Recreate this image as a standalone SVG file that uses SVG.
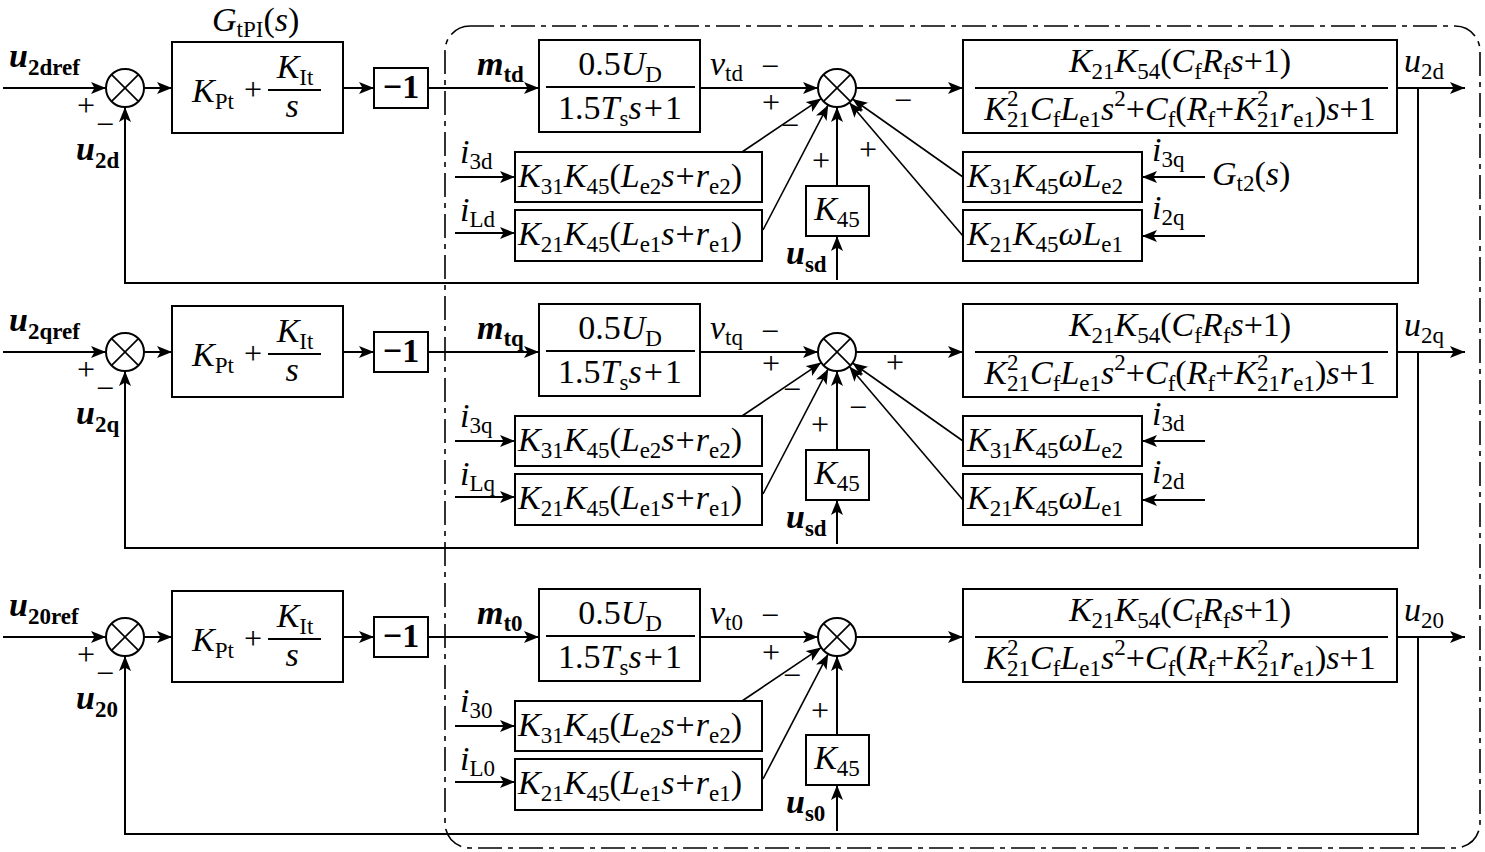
<svg xmlns="http://www.w3.org/2000/svg" width="1485" height="852" viewBox="0 0 1485 852">
<defs>
<marker id="ah" viewBox="0 0 15 12" refX="15" refY="6" markerWidth="15" markerHeight="12" markerUnits="userSpaceOnUse" orient="auto">
<path d="M0,0 L15,6 L0,12 L3.5,6 z" fill="#000"/>
</marker>
<style>
.ln{fill:none;stroke:#000;stroke-width:2}
.ar{marker-end:url(#ah)}
.dg{stroke-width:1.6}
.bx{fill:#fff;stroke:#000;stroke-width:2}
.sm{fill:#fff;stroke:#000;stroke-width:2}
.cx{fill:none;stroke:#000;stroke-width:1.6}
.tx{font-family:"Liberation Serif","Times New Roman",serif;font-size:34px;fill:#000}
.it{font-style:italic}
.sb{font-size:23px;font-style:normal}
.sg{font-family:"Liberation Serif","Times New Roman",serif;font-size:32px;fill:#000;text-anchor:middle}
.bd{font-weight:bold}
.mid{text-anchor:middle}
.border{fill:none;stroke:#000;stroke-width:1.6;stroke-dasharray:24 6 5 6}
</style>
</defs>
<rect width="1485" height="852" fill="#fff"/>

<g id="boundary"><rect class="border" x="445" y="26" width="1035" height="822" rx="25"/></g>

<g id="connectors">
<g id="conn-d">
<path class="ln ar" d="M3,88 H106"/>
<path class="ln ar" d="M144,88 H172"/>
<path class="ln ar" d="M343,88 H374"/>
<path class="ln ar" d="M428,88 H539"/>
<path class="ln ar" d="M700,88 H818"/>
<path class="ln ar" d="M856,88 H963"/>
<path class="ln ar" d="M1397,88 H1465"/>
<path class="ln ar" d="M1418,88 V283 H125 V107"/>
<path class="ln ar" d="M455,177 H515"/>
<path class="ln ar" d="M455,233 H515"/>
<path class="ln ar dg" d="M742,152 L821.2,98.6"/>
<path class="ln ar dg" d="M763,230 L828.2,104.9"/>
<path class="ln ar" d="M837,186 V107"/>
<path class="ln ar" d="M837,280 V236"/>
<path class="ln ar dg" d="M963,177 L852.5,99"/>
<path class="ln ar dg" d="M963,236 L849.3,102.5"/>
<path class="ln ar" d="M1205,177 H1142"/>
<path class="ln ar" d="M1205,236 H1142"/>
</g>
<g id="conn-q" transform="translate(0,264)">
<path class="ln ar" d="M3,88 H106"/>
<path class="ln ar" d="M144,88 H172"/>
<path class="ln ar" d="M343,88 H374"/>
<path class="ln ar" d="M428,88 H539"/>
<path class="ln ar" d="M700,88 H818"/>
<path class="ln ar" d="M856,88 H963"/>
<path class="ln ar" d="M1397,88 H1465"/>
<path class="ln ar" d="M1418,88 V284 H125 V107"/>
<path class="ln ar" d="M455,177 H515"/>
<path class="ln ar" d="M455,233 H515"/>
<path class="ln ar dg" d="M742,152 L821.2,98.6"/>
<path class="ln ar dg" d="M763,230 L828.2,104.9"/>
<path class="ln ar" d="M837,186 V107"/>
<path class="ln ar" d="M837,280 V236"/>
<path class="ln ar dg" d="M963,177 L852.5,99"/>
<path class="ln ar dg" d="M963,236 L849.3,102.5"/>
<path class="ln ar" d="M1205,177 H1142"/>
<path class="ln ar" d="M1205,236 H1142"/>
</g>
<g id="conn-0" transform="translate(0,549)">
<path class="ln ar" d="M3,88 H106"/>
<path class="ln ar" d="M144,88 H172"/>
<path class="ln ar" d="M343,88 H374"/>
<path class="ln ar" d="M428,88 H539"/>
<path class="ln ar" d="M700,88 H818"/>
<path class="ln ar" d="M856,88 H963"/>
<path class="ln ar" d="M1397,88 H1465"/>
<path class="ln ar" d="M1418,88 V285 H125 V107"/>
<path class="ln ar" d="M455,177 H515"/>
<path class="ln ar" d="M455,233 H515"/>
<path class="ln ar dg" d="M742,152 L821.2,98.6"/>
<path class="ln ar dg" d="M763,230 L828.2,104.9"/>
<path class="ln ar" d="M837,186 V107"/>
<path class="ln ar" d="M837,282 V236"/>
</g>
</g>

<!-- ROW D -->
<g id="row-d">
<g id="d-ref">
<text class="tx bd" x="9" y="67"><tspan class="it">u</tspan><tspan class="sb" dy="8">2dref</tspan></text>
<text class="sg" x="86" y="116">+</text>
<text class="sg" x="105" y="135">−</text>
<text class="tx bd" x="76" y="160"><tspan class="it">u</tspan><tspan class="sb" dy="8">2d</tspan></text>
</g>
<g id="d-sum1"><circle class="sm" cx="125" cy="88" r="19"/><path class="cx" d="M111.6,74.6 L138.4,101.4 M138.4,74.6 L111.6,101.4"/></g>
<g id="d-pi">
<text class="tx" x="212" y="31"><tspan class="it">G</tspan><tspan class="sb" dy="6">tPI</tspan><tspan dy="-6">(</tspan><tspan class="it">s</tspan>)</text>
<rect class="bx" x="172" y="42" width="171" height="91"/>
<text class="tx" x="192" y="102"><tspan class="it">K</tspan><tspan class="sb" dy="7">Pt</tspan></text>
<text class="sg" x="253" y="100">+</text>
<text class="tx mid" x="295" y="78"><tspan class="it">K</tspan><tspan class="sb" dy="7">It</tspan></text>
<line class="ln" x1="268" y1="90" x2="321" y2="90"/>
<text class="tx it mid" x="292" y="117">s</text>
</g>
<g id="d-neg"><rect class="bx" x="374" y="68" width="54" height="40"/><text class="tx bd mid" x="401" y="98">−1</text></g>
<g id="d-inv">
<text class="tx bd" x="477" y="75"><tspan class="it">m</tspan><tspan class="sb" dy="7">td</tspan></text>
<rect class="bx" x="539" y="40" width="161" height="92"/>
<text class="tx mid" x="620" y="75">0.5<tspan class="it">U</tspan><tspan class="sb" dy="7">D</tspan></text>
<line class="ln" x1="546" y1="87" x2="695" y2="87"/>
<text class="tx mid" x="620" y="119">1.5<tspan class="it">T</tspan><tspan class="sb" dy="7">s</tspan><tspan class="it" dy="-7">s</tspan><tspan dx="2">+</tspan><tspan dx="2">1</tspan></text>
<text class="tx" x="710" y="75"><tspan class="it">v</tspan><tspan class="sb" dy="6">td</tspan></text>
</g>
<g id="d-sum2"><circle class="sm" cx="837" cy="88" r="19"/><path class="cx" d="M823.6,74.6 L850.4,101.4 M850.4,74.6 L823.6,101.4"/>
<text class="sg" x="770" y="77">−</text>
<text class="sg" x="771" y="113">+</text>
<text class="sg" x="790" y="136">−</text>
<text class="sg" x="821" y="171">+</text>
<text class="sg" x="868" y="160">+</text>
<text class="sg" x="903" y="111">−</text>
</g>
<g id="d-plant">
<rect class="bx" x="963" y="40" width="434" height="93"/>
<text class="tx mid" x="1180" y="72"><tspan class="it">K</tspan><tspan class="sb" dy="7">21</tspan><tspan class="it" dy="-7">K</tspan><tspan class="sb" dy="7">54</tspan><tspan dy="-7">(</tspan><tspan class="it">C</tspan><tspan class="sb" dy="7">f</tspan><tspan class="it" dy="-7">R</tspan><tspan class="sb" dy="7">f</tspan><tspan class="it" dy="-7">s</tspan>+1)</text>
<line class="ln" x1="975" y1="88" x2="1388" y2="88"/>
<text class="tx mid" x="1180" y="120"><tspan class="it">K</tspan><tspan class="sb" dy="-14">2</tspan><tspan class="sb" dx="-11.5" dy="21">21</tspan><tspan class="it" dy="-7">C</tspan><tspan class="sb" dy="7">f</tspan><tspan class="it" dy="-7">L</tspan><tspan class="sb" dy="7">e1</tspan><tspan class="it" dy="-7">s</tspan><tspan class="sb" dy="-14">2</tspan><tspan dy="14">+</tspan><tspan class="it">C</tspan><tspan class="sb" dy="7">f</tspan><tspan dy="-7">(</tspan><tspan class="it">R</tspan><tspan class="sb" dy="7">f</tspan><tspan dy="-7">+</tspan><tspan class="it">K</tspan><tspan class="sb" dy="-14">2</tspan><tspan class="sb" dx="-11.5" dy="21">21</tspan><tspan class="it" dy="-7">r</tspan><tspan class="sb" dy="7">e1</tspan><tspan dy="-7">)</tspan><tspan class="it">s</tspan>+1</text>
<text class="tx" x="1404" y="72"><tspan class="it">u</tspan><tspan class="sb" dy="7">2d</tspan></text>
</g>
<g id="d-ga">
<text class="tx" x="460" y="163"><tspan class="it">i</tspan><tspan class="sb" dy="6">3d</tspan></text>
<rect class="bx" x="515" y="152" width="247" height="50"/>
<text class="tx" x="518" y="187"><tspan class="it">K</tspan><tspan class="sb" dy="7">31</tspan><tspan class="it" dy="-7">K</tspan><tspan class="sb" dy="7">45</tspan><tspan dy="-7">(</tspan><tspan class="it">L</tspan><tspan class="sb" dy="7">e2</tspan><tspan class="it" dy="-7">s</tspan><tspan dx="1">+</tspan><tspan class="it" dx="1">r</tspan><tspan class="sb" dy="7">e2</tspan><tspan dy="-7">)</tspan></text>
</g>
<g id="d-gb">
<text class="tx" x="460" y="221"><tspan class="it">i</tspan><tspan class="sb" dy="6">Ld</tspan></text>
<rect class="bx" x="515" y="210" width="247" height="51"/>
<text class="tx" x="518" y="245"><tspan class="it">K</tspan><tspan class="sb" dy="7">21</tspan><tspan class="it" dy="-7">K</tspan><tspan class="sb" dy="7">45</tspan><tspan dy="-7">(</tspan><tspan class="it">L</tspan><tspan class="sb" dy="7">e1</tspan><tspan class="it" dy="-7">s</tspan><tspan dx="1">+</tspan><tspan class="it" dx="1">r</tspan><tspan class="sb" dy="7">e1</tspan><tspan dy="-7">)</tspan></text>
</g>
<g id="d-k45">
<rect class="bx" x="806" y="186" width="63" height="50"/>
<text class="tx mid" x="837" y="220"><tspan class="it">K</tspan><tspan class="sb" dy="7">45</tspan></text>
<text class="tx bd" x="786" y="264"><tspan class="it">u</tspan><tspan class="sb" dy="8">sd</tspan></text>
</g>
<g id="d-wa">
<rect class="bx" x="963" y="152" width="179" height="50"/>
<text class="tx" x="967" y="187"><tspan class="it">K</tspan><tspan class="sb" dy="7">31</tspan><tspan class="it" dy="-7">K</tspan><tspan class="sb" dy="7">45</tspan><tspan class="it" dy="-7">ωL</tspan><tspan class="sb" dy="7">e2</tspan></text>
<text class="tx" x="1152" y="161"><tspan class="it">i</tspan><tspan class="sb" dy="6">3q</tspan></text>
<text class="tx" x="1212" y="185"><tspan class="it">G</tspan><tspan class="sb" dy="6">t2</tspan><tspan dy="-6">(</tspan><tspan class="it">s</tspan>)</text>
</g>
<g id="d-wb">
<rect class="bx" x="963" y="210" width="179" height="51"/>
<text class="tx" x="967" y="245"><tspan class="it">K</tspan><tspan class="sb" dy="7">21</tspan><tspan class="it" dy="-7">K</tspan><tspan class="sb" dy="7">45</tspan><tspan class="it" dy="-7">ωL</tspan><tspan class="sb" dy="7">e1</tspan></text>
<text class="tx" x="1152" y="219"><tspan class="it">i</tspan><tspan class="sb" dy="6">2q</tspan></text>
</g>
</g>

<!-- ROW Q -->
<g id="row-q" transform="translate(0,264)">
<g id="q-ref">
<text class="tx bd" x="9" y="67"><tspan class="it">u</tspan><tspan class="sb" dy="8">2qref</tspan></text>
<text class="sg" x="86" y="116">+</text>
<text class="sg" x="105" y="135">−</text>
<text class="tx bd" x="76" y="160"><tspan class="it">u</tspan><tspan class="sb" dy="8">2q</tspan></text>
</g>
<g id="q-sum1"><circle class="sm" cx="125" cy="88" r="19"/><path class="cx" d="M111.6,74.6 L138.4,101.4 M138.4,74.6 L111.6,101.4"/></g>
<g id="q-pi">
<rect class="bx" x="172" y="42" width="171" height="91"/>
<text class="tx" x="192" y="102"><tspan class="it">K</tspan><tspan class="sb" dy="7">Pt</tspan></text>
<text class="sg" x="253" y="100">+</text>
<text class="tx mid" x="295" y="78"><tspan class="it">K</tspan><tspan class="sb" dy="7">It</tspan></text>
<line class="ln" x1="268" y1="90" x2="321" y2="90"/>
<text class="tx it mid" x="292" y="117">s</text>
</g>
<g id="q-neg"><rect class="bx" x="374" y="68" width="54" height="40"/><text class="tx bd mid" x="401" y="98">−1</text></g>
<g id="q-inv">
<text class="tx bd" x="477" y="75"><tspan class="it">m</tspan><tspan class="sb" dy="7">tq</tspan></text>
<rect class="bx" x="539" y="40" width="161" height="92"/>
<text class="tx mid" x="620" y="75">0.5<tspan class="it">U</tspan><tspan class="sb" dy="7">D</tspan></text>
<line class="ln" x1="546" y1="87" x2="695" y2="87"/>
<text class="tx mid" x="620" y="119">1.5<tspan class="it">T</tspan><tspan class="sb" dy="7">s</tspan><tspan class="it" dy="-7">s</tspan><tspan dx="2">+</tspan><tspan dx="2">1</tspan></text>
<text class="tx" x="710" y="75"><tspan class="it">v</tspan><tspan class="sb" dy="6">tq</tspan></text>
</g>
<g id="q-sum2"><circle class="sm" cx="837" cy="88" r="19"/><path class="cx" d="M823.6,74.6 L850.4,101.4 M850.4,74.6 L823.6,101.4"/>
<text class="sg" x="770" y="78">−</text>
<text class="sg" x="771" y="110">+</text>
<text class="sg" x="792" y="136">−</text>
<text class="sg" x="820" y="171">+</text>
<text class="sg" x="858" y="154">−</text>
<text class="sg" x="895" y="109">+</text>
</g>
<g id="q-plant">
<rect class="bx" x="963" y="40" width="434" height="93"/>
<text class="tx mid" x="1180" y="72"><tspan class="it">K</tspan><tspan class="sb" dy="7">21</tspan><tspan class="it" dy="-7">K</tspan><tspan class="sb" dy="7">54</tspan><tspan dy="-7">(</tspan><tspan class="it">C</tspan><tspan class="sb" dy="7">f</tspan><tspan class="it" dy="-7">R</tspan><tspan class="sb" dy="7">f</tspan><tspan class="it" dy="-7">s</tspan>+1)</text>
<line class="ln" x1="975" y1="88" x2="1388" y2="88"/>
<text class="tx mid" x="1180" y="120"><tspan class="it">K</tspan><tspan class="sb" dy="-14">2</tspan><tspan class="sb" dx="-11.5" dy="21">21</tspan><tspan class="it" dy="-7">C</tspan><tspan class="sb" dy="7">f</tspan><tspan class="it" dy="-7">L</tspan><tspan class="sb" dy="7">e1</tspan><tspan class="it" dy="-7">s</tspan><tspan class="sb" dy="-14">2</tspan><tspan dy="14">+</tspan><tspan class="it">C</tspan><tspan class="sb" dy="7">f</tspan><tspan dy="-7">(</tspan><tspan class="it">R</tspan><tspan class="sb" dy="7">f</tspan><tspan dy="-7">+</tspan><tspan class="it">K</tspan><tspan class="sb" dy="-14">2</tspan><tspan class="sb" dx="-11.5" dy="21">21</tspan><tspan class="it" dy="-7">r</tspan><tspan class="sb" dy="7">e1</tspan><tspan dy="-7">)</tspan><tspan class="it">s</tspan>+1</text>
<text class="tx" x="1404" y="72"><tspan class="it">u</tspan><tspan class="sb" dy="7">2q</tspan></text>
</g>
<g id="q-ga">
<text class="tx" x="460" y="163"><tspan class="it">i</tspan><tspan class="sb" dy="6">3q</tspan></text>
<rect class="bx" x="515" y="152" width="247" height="50"/>
<text class="tx" x="518" y="187"><tspan class="it">K</tspan><tspan class="sb" dy="7">31</tspan><tspan class="it" dy="-7">K</tspan><tspan class="sb" dy="7">45</tspan><tspan dy="-7">(</tspan><tspan class="it">L</tspan><tspan class="sb" dy="7">e2</tspan><tspan class="it" dy="-7">s</tspan><tspan dx="1">+</tspan><tspan class="it" dx="1">r</tspan><tspan class="sb" dy="7">e2</tspan><tspan dy="-7">)</tspan></text>
</g>
<g id="q-gb">
<text class="tx" x="460" y="221"><tspan class="it">i</tspan><tspan class="sb" dy="6">Lq</tspan></text>
<rect class="bx" x="515" y="210" width="247" height="51"/>
<text class="tx" x="518" y="245"><tspan class="it">K</tspan><tspan class="sb" dy="7">21</tspan><tspan class="it" dy="-7">K</tspan><tspan class="sb" dy="7">45</tspan><tspan dy="-7">(</tspan><tspan class="it">L</tspan><tspan class="sb" dy="7">e1</tspan><tspan class="it" dy="-7">s</tspan><tspan dx="1">+</tspan><tspan class="it" dx="1">r</tspan><tspan class="sb" dy="7">e1</tspan><tspan dy="-7">)</tspan></text>
</g>
<g id="q-k45">
<rect class="bx" x="806" y="186" width="63" height="50"/>
<text class="tx mid" x="837" y="220"><tspan class="it">K</tspan><tspan class="sb" dy="7">45</tspan></text>
<text class="tx bd" x="786" y="264"><tspan class="it">u</tspan><tspan class="sb" dy="8">sd</tspan></text>
</g>
<g id="q-wa">
<rect class="bx" x="963" y="152" width="179" height="50"/>
<text class="tx" x="967" y="187"><tspan class="it">K</tspan><tspan class="sb" dy="7">31</tspan><tspan class="it" dy="-7">K</tspan><tspan class="sb" dy="7">45</tspan><tspan class="it" dy="-7">ωL</tspan><tspan class="sb" dy="7">e2</tspan></text>
<text class="tx" x="1152" y="161"><tspan class="it">i</tspan><tspan class="sb" dy="6">3d</tspan></text>
</g>
<g id="q-wb">
<rect class="bx" x="963" y="210" width="179" height="51"/>
<text class="tx" x="967" y="245"><tspan class="it">K</tspan><tspan class="sb" dy="7">21</tspan><tspan class="it" dy="-7">K</tspan><tspan class="sb" dy="7">45</tspan><tspan class="it" dy="-7">ωL</tspan><tspan class="sb" dy="7">e1</tspan></text>
<text class="tx" x="1152" y="219"><tspan class="it">i</tspan><tspan class="sb" dy="6">2d</tspan></text>
</g>
</g>

<!-- ROW 0 -->
<g id="row-0" transform="translate(0,549)">
<g id="z-ref">
<text class="tx bd" x="9" y="67"><tspan class="it">u</tspan><tspan class="sb" dy="8">20ref</tspan></text>
<text class="sg" x="86" y="116">+</text>
<text class="sg" x="105" y="135">−</text>
<text class="tx bd" x="76" y="160"><tspan class="it">u</tspan><tspan class="sb" dy="8">20</tspan></text>
</g>
<g id="z-sum1"><circle class="sm" cx="125" cy="88" r="19"/><path class="cx" d="M111.6,74.6 L138.4,101.4 M138.4,74.6 L111.6,101.4"/></g>
<g id="z-pi">
<rect class="bx" x="172" y="42" width="171" height="91"/>
<text class="tx" x="192" y="102"><tspan class="it">K</tspan><tspan class="sb" dy="7">Pt</tspan></text>
<text class="sg" x="253" y="100">+</text>
<text class="tx mid" x="295" y="78"><tspan class="it">K</tspan><tspan class="sb" dy="7">It</tspan></text>
<line class="ln" x1="268" y1="90" x2="321" y2="90"/>
<text class="tx it mid" x="292" y="117">s</text>
</g>
<g id="z-neg"><rect class="bx" x="374" y="68" width="54" height="40"/><text class="tx bd mid" x="401" y="98">−1</text></g>
<g id="z-inv">
<text class="tx bd" x="477" y="75"><tspan class="it">m</tspan><tspan class="sb" dy="7">t0</tspan></text>
<rect class="bx" x="539" y="40" width="161" height="92"/>
<text class="tx mid" x="620" y="75">0.5<tspan class="it">U</tspan><tspan class="sb" dy="7">D</tspan></text>
<line class="ln" x1="546" y1="87" x2="695" y2="87"/>
<text class="tx mid" x="620" y="119">1.5<tspan class="it">T</tspan><tspan class="sb" dy="7">s</tspan><tspan class="it" dy="-7">s</tspan><tspan dx="2">+</tspan><tspan dx="2">1</tspan></text>
<text class="tx" x="710" y="75"><tspan class="it">v</tspan><tspan class="sb" dy="6">t0</tspan></text>
</g>
<g id="z-sum2"><circle class="sm" cx="837" cy="88" r="19"/><path class="cx" d="M823.6,74.6 L850.4,101.4 M850.4,74.6 L823.6,101.4"/>
<text class="sg" x="770" y="77">−</text>
<text class="sg" x="771" y="114">+</text>
<text class="sg" x="792" y="137">−</text>
<text class="sg" x="820" y="172">+</text>
</g>
<g id="z-plant">
<rect class="bx" x="963" y="40" width="434" height="93"/>
<text class="tx mid" x="1180" y="72"><tspan class="it">K</tspan><tspan class="sb" dy="7">21</tspan><tspan class="it" dy="-7">K</tspan><tspan class="sb" dy="7">54</tspan><tspan dy="-7">(</tspan><tspan class="it">C</tspan><tspan class="sb" dy="7">f</tspan><tspan class="it" dy="-7">R</tspan><tspan class="sb" dy="7">f</tspan><tspan class="it" dy="-7">s</tspan>+1)</text>
<line class="ln" x1="975" y1="88" x2="1388" y2="88"/>
<text class="tx mid" x="1180" y="120"><tspan class="it">K</tspan><tspan class="sb" dy="-14">2</tspan><tspan class="sb" dx="-11.5" dy="21">21</tspan><tspan class="it" dy="-7">C</tspan><tspan class="sb" dy="7">f</tspan><tspan class="it" dy="-7">L</tspan><tspan class="sb" dy="7">e1</tspan><tspan class="it" dy="-7">s</tspan><tspan class="sb" dy="-14">2</tspan><tspan dy="14">+</tspan><tspan class="it">C</tspan><tspan class="sb" dy="7">f</tspan><tspan dy="-7">(</tspan><tspan class="it">R</tspan><tspan class="sb" dy="7">f</tspan><tspan dy="-7">+</tspan><tspan class="it">K</tspan><tspan class="sb" dy="-14">2</tspan><tspan class="sb" dx="-11.5" dy="21">21</tspan><tspan class="it" dy="-7">r</tspan><tspan class="sb" dy="7">e1</tspan><tspan dy="-7">)</tspan><tspan class="it">s</tspan>+1</text>
<text class="tx" x="1404" y="72"><tspan class="it">u</tspan><tspan class="sb" dy="7">20</tspan></text>
</g>
<g id="z-ga">
<text class="tx" x="460" y="163"><tspan class="it">i</tspan><tspan class="sb" dy="6">30</tspan></text>
<rect class="bx" x="515" y="152" width="247" height="50"/>
<text class="tx" x="518" y="187"><tspan class="it">K</tspan><tspan class="sb" dy="7">31</tspan><tspan class="it" dy="-7">K</tspan><tspan class="sb" dy="7">45</tspan><tspan dy="-7">(</tspan><tspan class="it">L</tspan><tspan class="sb" dy="7">e2</tspan><tspan class="it" dy="-7">s</tspan><tspan dx="1">+</tspan><tspan class="it" dx="1">r</tspan><tspan class="sb" dy="7">e2</tspan><tspan dy="-7">)</tspan></text>
</g>
<g id="z-gb">
<text class="tx" x="460" y="221"><tspan class="it">i</tspan><tspan class="sb" dy="6">L0</tspan></text>
<rect class="bx" x="515" y="210" width="247" height="51"/>
<text class="tx" x="518" y="245"><tspan class="it">K</tspan><tspan class="sb" dy="7">21</tspan><tspan class="it" dy="-7">K</tspan><tspan class="sb" dy="7">45</tspan><tspan dy="-7">(</tspan><tspan class="it">L</tspan><tspan class="sb" dy="7">e1</tspan><tspan class="it" dy="-7">s</tspan><tspan dx="1">+</tspan><tspan class="it" dx="1">r</tspan><tspan class="sb" dy="7">e1</tspan><tspan dy="-7">)</tspan></text>
</g>
<g id="z-k45">
<rect class="bx" x="806" y="186" width="63" height="50"/>
<text class="tx mid" x="837" y="220"><tspan class="it">K</tspan><tspan class="sb" dy="7">45</tspan></text>
<text class="tx bd" x="786" y="264"><tspan class="it">u</tspan><tspan class="sb" dy="8">s0</tspan></text>
</g>
</g>
</svg>
